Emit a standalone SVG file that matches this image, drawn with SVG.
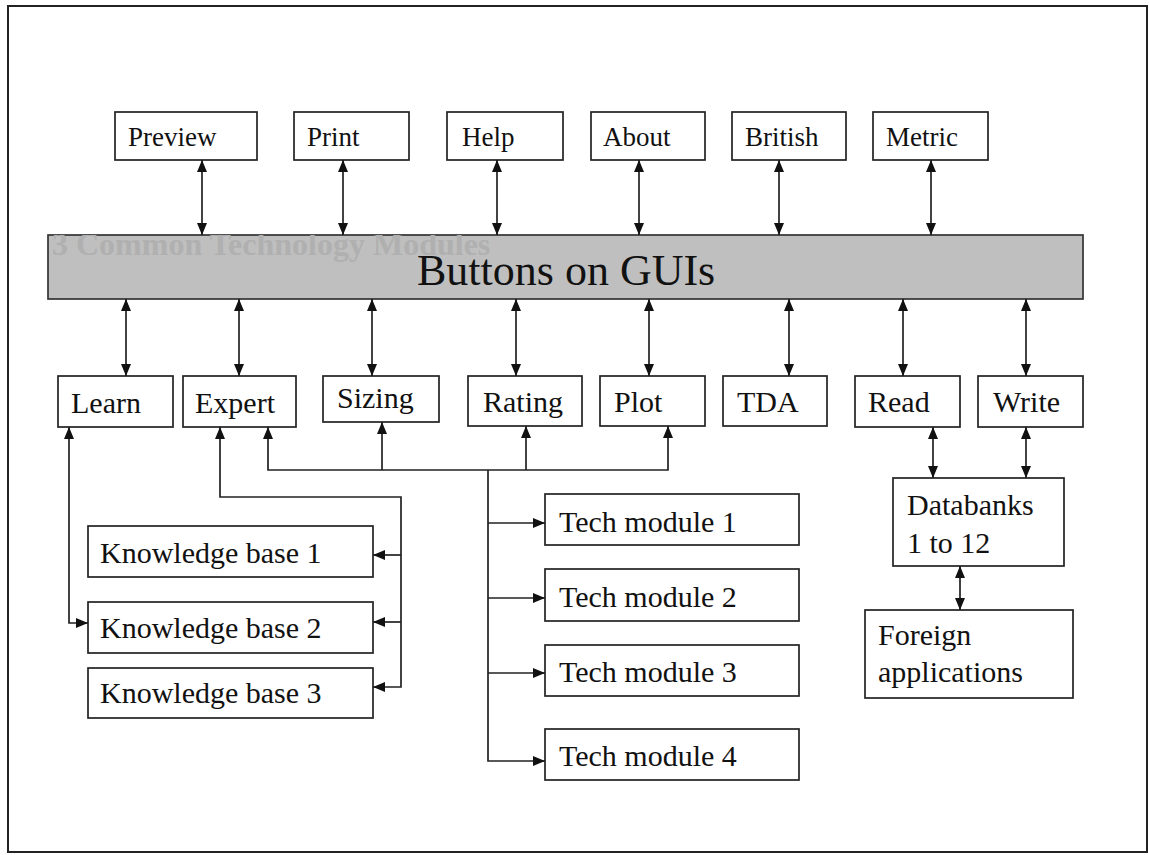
<svg xmlns="http://www.w3.org/2000/svg" width="1149" height="855" viewBox="0 0 1149 855">
<style>
.box{fill:#fff;stroke:#222;stroke-width:1.7}
.t{font-family:"Liberation Serif","Times New Roman",serif;fill:#111}
.top{font-size:27px}
.low{font-size:30px}
.c{fill:none;stroke:#222;stroke-width:1.7}
.b{marker-start:url(#ah);marker-end:url(#ah)}
.e{marker-end:url(#ah)}
</style>
<defs>
<marker id="ah" viewBox="0 0 12 10" refX="12" refY="5" markerWidth="12" markerHeight="10" markerUnits="userSpaceOnUse" orient="auto-start-reverse">
<path d="M0,0 L12,5 L0,10 z" fill="#111"/>
</marker>
<clipPath id="barclip"><rect x="48" y="235" width="1035" height="64"/></clipPath>
</defs>
<rect x="0" y="0" width="1149" height="855" fill="#fff"/>
<rect x="8" y="6" width="1139" height="846" fill="none" stroke="#222" stroke-width="2"/>

<g id="bar">
<rect x="48" y="235" width="1035" height="64" fill="#bfbfbf" stroke="#333" stroke-width="1.7"/>
<text class="t" x="52" y="255" font-size="32" font-weight="bold" style="fill:#b0b0b0" clip-path="url(#barclip)">3 Common Technology Modules</text>
<text class="t" x="417" y="285" font-size="44">Buttons on GUIs</text>
</g>

<g id="preview"><rect class="box" x="115" y="112" width="142" height="48"/><text class="t top" x="128" y="146">Preview</text></g>
<g id="print"><rect class="box" x="294" y="112" width="115" height="48"/><text class="t top" x="307" y="146">Print</text></g>
<g id="help"><rect class="box" x="447" y="112" width="116" height="48"/><text class="t top" x="462" y="146">Help</text></g>
<g id="about"><rect class="box" x="591" y="112" width="114" height="48"/><text class="t top" x="603" y="146">About</text></g>
<g id="british"><rect class="box" x="732" y="112" width="114" height="48"/><text class="t top" x="745" y="146">British</text></g>
<g id="metric"><rect class="box" x="873" y="112" width="115" height="48"/><text class="t top" x="886" y="146">Metric</text></g>

<g id="learn"><rect class="box" x="58" y="376" width="115" height="51"/><text class="t low" x="71" y="413">Learn</text></g>
<g id="expert"><rect class="box" x="183" y="376" width="113" height="51"/><text class="t low" x="195" y="413">Expert</text></g>
<g id="sizing"><rect class="box" x="323" y="376" width="116" height="46"/><text class="t low" x="337" y="408">Sizing</text></g>
<g id="rating"><rect class="box" x="468" y="376" width="114" height="50"/><text class="t low" x="483" y="412">Rating</text></g>
<g id="plot"><rect class="box" x="600" y="376" width="105" height="50"/><text class="t low" x="614" y="412">Plot</text></g>
<g id="tda"><rect class="box" x="723" y="376" width="104" height="50"/><text class="t low" x="737" y="412">TDA</text></g>
<g id="read"><rect class="box" x="855" y="376" width="105" height="51"/><text class="t low" x="868" y="412">Read</text></g>
<g id="write"><rect class="box" x="978" y="376" width="105" height="51"/><text class="t low" x="993" y="412">Write</text></g>

<g id="kb1"><rect class="box" x="88" y="526" width="285" height="51"/><text class="t low" x="100" y="563">Knowledge base 1</text></g>
<g id="kb2"><rect class="box" x="88" y="602" width="285" height="51"/><text class="t low" x="100" y="638">Knowledge base 2</text></g>
<g id="kb3"><rect class="box" x="88" y="668" width="285" height="50"/><text class="t low" x="100" y="703">Knowledge base 3</text></g>

<g id="tm1"><rect class="box" x="545" y="494" width="254" height="51"/><text class="t low" x="559" y="532">Tech module 1</text></g>
<g id="tm2"><rect class="box" x="545" y="569" width="254" height="52"/><text class="t low" x="559" y="607">Tech module 2</text></g>
<g id="tm3"><rect class="box" x="545" y="645" width="254" height="51"/><text class="t low" x="559" y="682">Tech module 3</text></g>
<g id="tm4"><rect class="box" x="545" y="729" width="254" height="51"/><text class="t low" x="559" y="766">Tech module 4</text></g>

<g id="databanks"><rect class="box" x="893" y="478" width="171" height="88"/><text class="t low" x="907" y="515">Databanks</text><text class="t low" x="907" y="553">1 to 12</text></g>
<g id="foreign"><rect class="box" x="865" y="610" width="208" height="88"/><text class="t low" x="878" y="645">Foreign</text><text class="t low" x="878" y="682">applications</text></g>

<g id="connectors">
<line class="c b" x1="202" y1="160" x2="202" y2="235"/>
<line class="c b" x1="343" y1="160" x2="343" y2="235"/>
<line class="c b" x1="497" y1="160" x2="497" y2="235"/>
<line class="c b" x1="639" y1="160" x2="639" y2="235"/>
<line class="c b" x1="779" y1="160" x2="779" y2="235"/>
<line class="c b" x1="931" y1="160" x2="931" y2="235"/>

<line class="c b" x1="126" y1="299" x2="126" y2="376"/>
<line class="c b" x1="239" y1="299" x2="239" y2="376"/>
<line class="c b" x1="372" y1="299" x2="372" y2="376"/>
<line class="c b" x1="516" y1="299" x2="516" y2="376"/>
<line class="c b" x1="649" y1="299" x2="649" y2="376"/>
<line class="c b" x1="789" y1="299" x2="789" y2="376"/>
<line class="c b" x1="903" y1="299" x2="903" y2="376"/>
<line class="c b" x1="1026" y1="299" x2="1026" y2="376"/>

<line class="c b" x1="933" y1="427" x2="933" y2="478"/>
<line class="c b" x1="1026" y1="427" x2="1026" y2="478"/>
<line class="c b" x1="960" y1="566" x2="960" y2="610"/>

<path class="c b" d="M69,427 V623 H88"/>
<path class="c b" d="M220,427 V497 H401 V687 H373"/>
<path class="c e" d="M401,555 H373"/>
<path class="c e" d="M401,622 H373"/>

<path class="c b" d="M268,427 V470 H668 V426"/>
<path class="c e" d="M382,470 V422"/>
<path class="c e" d="M526,470 V426"/>
<path class="c e" d="M488,470 V761 H545"/>
<path class="c e" d="M488,523 H545"/>
<path class="c e" d="M488,598 H545"/>
<path class="c e" d="M488,673 H545"/>
</g>
</svg>
